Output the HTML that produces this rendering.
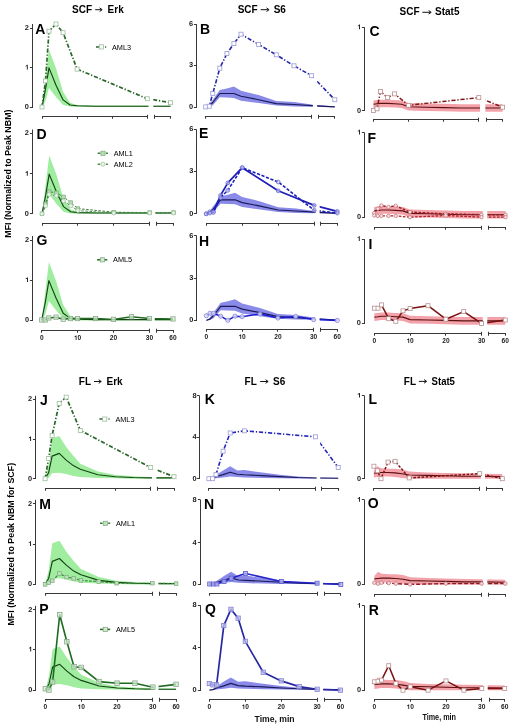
<!DOCTYPE html>
<html><head><meta charset="utf-8"><style>
html,body{margin:0;padding:0;background:#fff;width:520px;height:727px;overflow:hidden}
svg text{font-family:"Liberation Sans", sans-serif}
svg{will-change:transform;filter:blur(0.4px)}
</style></head><body>
<svg width="520" height="727" viewBox="0 0 520 727" style="position:absolute;left:0;top:0">
<defs>
<clipPath id="cA"><rect x="33.3" y="-2" width="115.2" height="123.5"/><rect x="153.3" y="-2" width="25.2" height="123.5"/></clipPath>
<clipPath id="cB"><rect x="197.6" y="-5.8" width="115.2" height="127.1"/><rect x="317.2" y="-5.8" width="25.6" height="127.1"/></clipPath>
<clipPath id="cC"><rect x="365.5" y="-2.7" width="114.5" height="127.2"/><rect x="485.4" y="-2.7" width="25.2" height="127.2"/></clipPath>
<clipPath id="cD"><rect x="33.3" y="103.5" width="117.6" height="125"/><rect x="155.4" y="103.5" width="26.1" height="125"/></clipPath>
<clipPath id="cE"><rect x="197.7" y="99.5" width="117.7" height="129.1"/><rect x="319.7" y="99.5" width="25.6" height="129.1"/></clipPath>
<clipPath id="cF"><rect x="365.5" y="102.6" width="117.2" height="129.4"/><rect x="487.3" y="102.6" width="26.3" height="129.4"/></clipPath>
<clipPath id="cG"><rect x="33.5" y="210" width="117.1" height="125"/><rect x="154.8" y="210" width="26.2" height="125"/></clipPath>
<clipPath id="cH"><rect x="197.7" y="205.6" width="117.1" height="129"/><rect x="319.7" y="205.6" width="25.6" height="129"/></clipPath>
<clipPath id="cI"><rect x="365.3" y="209.1" width="117.5" height="129.1"/><rect x="487.3" y="209.1" width="26" height="129.1"/></clipPath>
<clipPath id="cJ"><rect x="36.6" y="369.5" width="115.3" height="123.7"/><rect x="156.4" y="369.5" width="25.6" height="123.7"/></clipPath>
<clipPath id="cK"><rect x="200.9" y="365.7" width="115.7" height="127.3"/><rect x="320.2" y="365.7" width="26" height="127.3"/></clipPath>
<clipPath id="cL"><rect x="365.5" y="365.7" width="115.4" height="127.4"/><rect x="485" y="365.7" width="25.3" height="127.4"/></clipPath>
<clipPath id="cM"><rect x="36.5" y="473.6" width="117.1" height="125.1"/><rect x="158.5" y="473.6" width="25.6" height="125.1"/></clipPath>
<clipPath id="cN"><rect x="201.1" y="469.9" width="117.2" height="128.9"/><rect x="323.2" y="469.9" width="25.6" height="128.9"/></clipPath>
<clipPath id="cO"><rect x="365.5" y="469.8" width="117.3" height="129.4"/><rect x="487.3" y="469.8" width="26" height="129.4"/></clipPath>
<clipPath id="cP"><rect x="36.7" y="579.6" width="117.3" height="125"/><rect x="158.5" y="579.6" width="25.6" height="125"/></clipPath>
<clipPath id="cQ"><rect x="201" y="575.2" width="117.3" height="129.1"/><rect x="323.2" y="575.2" width="25.2" height="129.1"/></clipPath>
<clipPath id="cR"><rect x="365.5" y="575.7" width="117.5" height="128.7"/><rect x="487.8" y="575.7" width="24.9" height="128.7"/></clipPath>
</defs>
<path d="M32.5 24V108" stroke="#383838" stroke-width="1.05" fill="none"/>
<path d="M29.9 107.5H32.5" stroke="#383838" stroke-width="1.05" fill="none"/>
<text transform="translate(24.8 109) scale(1.12 1)" font-size="6.6" font-weight="bold" fill="#1a1a1a">0</text>
<path d="M29.9 67.5H32.5" stroke="#383838" stroke-width="1.05" fill="none"/>
<path transform="translate(24.8 69.5) scale(0.00361 -0.00322)" d="M820 0L560 0L560 1050Q420 930 200 860L200 1110Q330 1160 450 1260Q560 1360 610 1466L820 1466Z" fill="#1a1a1a"/>
<path d="M29.9 28.5H32.5" stroke="#383838" stroke-width="1.05" fill="none"/>
<text transform="translate(24.8 29.9) scale(1.12 1)" font-size="6.6" font-weight="bold" fill="#1a1a1a">2</text>
<path d="M42.5 118.7V116.5H147.5M77.5 116.5v2.2M112.5 116.5v2.2M147.5 114.8V118.7M154.5 114.8V118.7M154.5 116.5H170.5V118.7" stroke="#383838" stroke-width="1.05" fill="none"/>
<text x="35.3" y="34" font-size="14" font-weight="bold" fill="#000">A</text>
<g>
<path clip-path="url(#cA)" d="M42 107L45.5 78.6L49 49.7L56 68.3L63.1 92L70.1 102.7L77.1 105L94.7 105.4L112.2 105.6L129.8 105.6L147.3 105.6L170.5 105.6L170.5 107L147.3 107L129.8 107L112.2 107L94.7 107L77.1 107L70.1 106.6L63.1 105L56 97.1L49 88L45.5 101.1L42 107Z" fill="#a0eda0" stroke="none"/>
<path clip-path="url(#cA)" d="M42 107L45.5 89.2L49 67.9L56 85.3L63.1 99.9L70.1 105L77.1 105.8L94.7 106.2L112.2 106.2L129.8 106.2L147.3 106.2L170.5 106.2" fill="none" stroke="#144414" stroke-width="1.15" stroke-linejoin="round"/>
<path clip-path="url(#cA)" d="M42 107L45.5 80.9L49 31.2L56 24L63.1 32.7L77.1 69.1L147.3 98.7L170.5 102.7" fill="none" stroke="#2a662a" stroke-width="1.7" stroke-dasharray="4.2 1.8 1.3 1.8" stroke-linejoin="round"/>
<rect x="40" y="105" width="4" height="4" fill="#fff" stroke="#9cbc9c" stroke-width="0.8"/>
<rect x="43.5" y="78.9" width="4" height="4" fill="#fff" stroke="#9cbc9c" stroke-width="0.8"/>
<rect x="47" y="29.2" width="4" height="4" fill="#fff" stroke="#9cbc9c" stroke-width="0.8"/>
<rect x="54" y="22" width="4" height="4" fill="#fff" stroke="#9cbc9c" stroke-width="0.8"/>
<rect x="61.1" y="30.7" width="4" height="4" fill="#fff" stroke="#9cbc9c" stroke-width="0.8"/>
<rect x="75.1" y="67.1" width="4" height="4" fill="#fff" stroke="#9cbc9c" stroke-width="0.8"/>
<rect x="145.3" y="96.7" width="4" height="4" fill="#fff" stroke="#9cbc9c" stroke-width="0.8"/>
<rect x="168.5" y="100.7" width="4" height="4" fill="#fff" stroke="#9cbc9c" stroke-width="0.8"/>
</g>
<path d="M96 46.9h10.2" stroke="#2a662a" stroke-width="1.5" stroke-dasharray="4.2 1.8 1.3 1.8"/>
<rect x="99.2" y="44.8" width="4.2" height="4.2" fill="#fff" stroke="#9cbc9c" stroke-width="0.8"/>
<text x="112" y="49.5" font-size="7.3" fill="#000">AML3</text>
<path d="M196.5 24.2V108" stroke="#383838" stroke-width="1.05" fill="none"/>
<path d="M193.9 107.5H196.5" stroke="#383838" stroke-width="1.05" fill="none"/>
<text transform="translate(189.1 109.2) scale(1.12 1)" font-size="6.6" font-weight="bold" fill="#1a1a1a">0</text>
<path d="M193.9 65.5H196.5" stroke="#383838" stroke-width="1.05" fill="none"/>
<text transform="translate(189.1 67.2) scale(1.12 1)" font-size="6.6" font-weight="bold" fill="#1a1a1a">3</text>
<path d="M193.9 24.5H196.5" stroke="#383838" stroke-width="1.05" fill="none"/>
<text transform="translate(189.1 26.1) scale(1.12 1)" font-size="6.6" font-weight="bold" fill="#1a1a1a">6</text>
<path d="M205.5 118.7V116.5H311.5M241.5 116.5v2.2M276.5 116.5v2.2M311.5 114.8V118.7M318.5 114.8V118.7M318.5 116.5H334.5V118.7" stroke="#383838" stroke-width="1.05" fill="none"/>
<text x="200" y="34" font-size="14" font-weight="bold" fill="#000">B</text>
<g>
<path clip-path="url(#cB)" d="M205.7 107.3L209.2 104.5L212.8 99.7L219.8 90L226.9 88.6L233.9 86.5L241 90.7L258.6 95.1L276.3 100.9L294 102L311.6 104.5L334.8 106.6L334.8 107.2L311.6 106.7L294 106.5L276.3 105.6L258.6 103.1L241 100.7L233.9 97.9L226.9 97.6L219.8 97.3L212.8 105.2L209.2 107L205.7 107.3Z" fill="#8a8ae8" stroke="none"/>
<path clip-path="url(#cB)" d="M205.7 107.3L209.2 105.9L212.8 102.5L219.8 93.5L226.9 93.5L233.9 93.5L241 96.2L258.6 99.7L276.3 103.6L294 104.5L311.6 105.6L334.8 106.9" fill="none" stroke="#1a1a58" stroke-width="1.15" stroke-linejoin="round"/>
<path clip-path="url(#cB)" d="M205.7 106.9L209.2 106.2L212.8 93.5L219.8 68.2L226.9 53.6L233.9 43.6L241 34.2L258.6 44.4L276.3 54.8L294 65.8L311.6 75.7L334.8 99.7" fill="none" stroke="#2424a8" stroke-width="1.6" stroke-dasharray="4.2 1.8 1.3 1.8" stroke-linejoin="round"/>
<rect x="203.7" y="104.9" width="4" height="4" fill="#fff" stroke="#9a9ad8" stroke-width="0.8"/>
<rect x="207.2" y="104.2" width="4" height="4" fill="#fff" stroke="#9a9ad8" stroke-width="0.8"/>
<rect x="210.8" y="91.5" width="4" height="4" fill="#fff" stroke="#9a9ad8" stroke-width="0.8"/>
<rect x="217.8" y="66.2" width="4" height="4" fill="#fff" stroke="#9a9ad8" stroke-width="0.8"/>
<rect x="224.9" y="51.6" width="4" height="4" fill="#fff" stroke="#9a9ad8" stroke-width="0.8"/>
<rect x="231.9" y="41.6" width="4" height="4" fill="#fff" stroke="#9a9ad8" stroke-width="0.8"/>
<rect x="239" y="32.2" width="4" height="4" fill="#fff" stroke="#9a9ad8" stroke-width="0.8"/>
<rect x="256.6" y="42.4" width="4" height="4" fill="#fff" stroke="#9a9ad8" stroke-width="0.8"/>
<rect x="274.3" y="52.8" width="4" height="4" fill="#fff" stroke="#9a9ad8" stroke-width="0.8"/>
<rect x="292" y="63.8" width="4" height="4" fill="#fff" stroke="#9a9ad8" stroke-width="0.8"/>
<rect x="309.6" y="73.7" width="4" height="4" fill="#fff" stroke="#9a9ad8" stroke-width="0.8"/>
<rect x="332.8" y="97.7" width="4" height="4" fill="#fff" stroke="#9a9ad8" stroke-width="0.8"/>
</g>
<path d="M364.5 27.3V111" stroke="#383838" stroke-width="1.05" fill="none"/>
<path d="M361.9 110.5H364.5" stroke="#383838" stroke-width="1.05" fill="none"/>
<text transform="translate(357 112.5) scale(1.12 1)" font-size="6.6" font-weight="bold" fill="#1a1a1a">0</text>
<path d="M361.9 27.5H364.5" stroke="#383838" stroke-width="1.05" fill="none"/>
<path transform="translate(357 29.2) scale(0.00361 -0.00322)" d="M820 0L560 0L560 1050Q420 930 200 860L200 1110Q330 1160 450 1260Q560 1360 610 1466L820 1466Z" fill="#1a1a1a"/>
<path d="M373.5 121.7V119.5H478.5M408.5 119.5v2.2M443.5 119.5v2.2M478.5 117.8V121.7M486.5 117.8V121.7M486.5 119.5H502.5V121.7" stroke="#383838" stroke-width="1.05" fill="none"/>
<text x="369.5" y="35.8" font-size="14" font-weight="bold" fill="#000">C</text>
<g>
<path clip-path="url(#cC)" d="M373.5 100.5L377 100.1L380.5 99.7L387.5 99.7L394.6 100.1L401.6 100.5L408.6 103L426.1 103.4L443.7 103.8L461.2 104.3L478.8 104.3L502.6 104.3L502.6 111.7L478.8 111.7L461.2 111.7L443.7 111.3L426.1 110.9L408.6 110.5L401.6 108L394.6 107.6L387.5 107.2L380.5 107.2L377 107.6L373.5 108Z" fill="#f3a2aa" stroke="none"/>
<path clip-path="url(#cC)" d="M373.5 104.3L377 103.8L380.5 103.4L387.5 103.4L394.6 103.8L401.6 104.3L408.6 106.8L426.1 107.2L443.7 107.6L461.2 108L478.8 108L502.6 108" fill="none" stroke="#5c1010" stroke-width="1.15" stroke-linejoin="round"/>
<path clip-path="url(#cC)" d="M373.5 110.5L377 108.8L380.5 91.4L387.5 97.6L394.6 93.9L408.6 105.3L478.8 97.6L502.6 107.2" fill="none" stroke="#7e1616" stroke-width="1.5" stroke-dasharray="4.2 1.8 1.3 1.8" stroke-linejoin="round"/>
<rect x="371.5" y="108.5" width="4" height="4" fill="#fff" stroke="#b89090" stroke-width="0.8"/>
<rect x="375" y="106.8" width="4" height="4" fill="#fff" stroke="#b89090" stroke-width="0.8"/>
<rect x="378.5" y="89.4" width="4" height="4" fill="#fff" stroke="#b89090" stroke-width="0.8"/>
<rect x="385.5" y="95.6" width="4" height="4" fill="#fff" stroke="#b89090" stroke-width="0.8"/>
<rect x="392.6" y="91.9" width="4" height="4" fill="#fff" stroke="#b89090" stroke-width="0.8"/>
<rect x="406.6" y="103.3" width="4" height="4" fill="#fff" stroke="#b89090" stroke-width="0.8"/>
<rect x="476.8" y="95.6" width="4" height="4" fill="#fff" stroke="#b89090" stroke-width="0.8"/>
<rect x="500.6" y="105.2" width="4" height="4" fill="#fff" stroke="#b89090" stroke-width="0.8"/>
</g>
<path d="M32.5 129.5V214" stroke="#383838" stroke-width="1.05" fill="none"/>
<path d="M29.9 213.5H32.5" stroke="#383838" stroke-width="1.05" fill="none"/>
<text transform="translate(24.8 215.8) scale(1.12 1)" font-size="6.6" font-weight="bold" fill="#1a1a1a">0</text>
<path d="M29.9 173.5H32.5" stroke="#383838" stroke-width="1.05" fill="none"/>
<path transform="translate(24.8 175.8) scale(0.00361 -0.00322)" d="M820 0L560 0L560 1050Q420 930 200 860L200 1110Q330 1160 450 1260Q560 1360 610 1466L820 1466Z" fill="#1a1a1a"/>
<path d="M29.9 133.5H32.5" stroke="#383838" stroke-width="1.05" fill="none"/>
<text transform="translate(24.8 135.4) scale(1.12 1)" font-size="6.6" font-weight="bold" fill="#1a1a1a">2</text>
<path d="M42.5 225.7V223.5H149.5M77.5 223.5v2.2M113.5 223.5v2.2M149.5 221.8V225.7M156.5 221.8V225.7M156.5 223.5H173.5V225.7" stroke="#383838" stroke-width="1.05" fill="none"/>
<text x="36.5" y="138.9" font-size="14" font-weight="bold" fill="#000">D</text>
<g>
<path clip-path="url(#cD)" d="M42 213.8L45.6 184.9L49.2 155.6L56.4 174.5L63.5 198.5L70.7 209.4L77.9 211.8L95.8 212.2L113.8 212.4L131.8 212.4L149.7 212.4L173.5 212.4L173.5 213.8L149.7 213.8L131.8 213.8L113.8 213.8L95.8 213.8L77.9 213.8L70.7 213.4L63.5 211.8L56.4 203.8L49.2 194.5L45.6 207.8L42 213.8Z" fill="#a0eda0" stroke="none"/>
<path clip-path="url(#cD)" d="M42 213.8L45.6 195.7L49.2 174.1L56.4 191.7L63.5 206.6L70.7 211.8L77.9 212.6L95.8 213L113.8 213L131.8 213L149.7 213L173.5 213" fill="none" stroke="#144414" stroke-width="1.15" stroke-linejoin="round"/>
<path clip-path="url(#cD)" d="M42 213.8L45.6 203.8L49.2 191.7L56.4 192.9L63.5 196.9L70.7 202.6L77.9 208.6L113.8 212.2L149.7 212.6L173.5 212.6" fill="none" stroke="#3c7c3c" stroke-width="1.0" stroke-dasharray="2.6 1.5" stroke-linejoin="round"/>
<rect x="40.2" y="212" width="3.6" height="3.6" fill="#b8dcb8" stroke="#7aaa7a" stroke-width="0.7"/>
<rect x="43.8" y="202" width="3.6" height="3.6" fill="#b8dcb8" stroke="#7aaa7a" stroke-width="0.7"/>
<rect x="47.4" y="189.9" width="3.6" height="3.6" fill="#b8dcb8" stroke="#7aaa7a" stroke-width="0.7"/>
<rect x="54.6" y="191.1" width="3.6" height="3.6" fill="#b8dcb8" stroke="#7aaa7a" stroke-width="0.7"/>
<rect x="61.7" y="195.1" width="3.6" height="3.6" fill="#b8dcb8" stroke="#7aaa7a" stroke-width="0.7"/>
<rect x="68.9" y="200.8" width="3.6" height="3.6" fill="#b8dcb8" stroke="#7aaa7a" stroke-width="0.7"/>
<rect x="76.1" y="206.8" width="3.6" height="3.6" fill="#b8dcb8" stroke="#7aaa7a" stroke-width="0.7"/>
<rect x="112" y="210.4" width="3.6" height="3.6" fill="#b8dcb8" stroke="#7aaa7a" stroke-width="0.7"/>
<rect x="147.9" y="210.8" width="3.6" height="3.6" fill="#b8dcb8" stroke="#7aaa7a" stroke-width="0.7"/>
<rect x="171.7" y="210.8" width="3.6" height="3.6" fill="#b8dcb8" stroke="#7aaa7a" stroke-width="0.7"/>
<path clip-path="url(#cD)" d="M42 213.8L45.6 205.8L49.2 194.5L56.4 195.7L63.5 201L70.7 205.8L77.9 210.6L113.8 213L149.7 213L173.5 213" fill="none" stroke="#4a8a4a" stroke-width="0.9" stroke-dasharray="2.6 1.5" stroke-linejoin="round"/>
<circle cx="42" cy="213.8" r="2" fill="#e6f4e6" stroke="#9cc09c" stroke-width="0.7"/>
<circle cx="45.6" cy="205.8" r="2" fill="#e6f4e6" stroke="#9cc09c" stroke-width="0.7"/>
<circle cx="49.2" cy="194.5" r="2" fill="#e6f4e6" stroke="#9cc09c" stroke-width="0.7"/>
<circle cx="56.4" cy="195.7" r="2" fill="#e6f4e6" stroke="#9cc09c" stroke-width="0.7"/>
<circle cx="63.5" cy="201" r="2" fill="#e6f4e6" stroke="#9cc09c" stroke-width="0.7"/>
<circle cx="70.7" cy="205.8" r="2" fill="#e6f4e6" stroke="#9cc09c" stroke-width="0.7"/>
<circle cx="77.9" cy="210.6" r="2" fill="#e6f4e6" stroke="#9cc09c" stroke-width="0.7"/>
<circle cx="113.8" cy="213" r="2" fill="#e6f4e6" stroke="#9cc09c" stroke-width="0.7"/>
<circle cx="149.7" cy="213" r="2" fill="#e6f4e6" stroke="#9cc09c" stroke-width="0.7"/>
<circle cx="173.5" cy="213" r="2" fill="#e6f4e6" stroke="#9cc09c" stroke-width="0.7"/>
</g>
<path d="M97.7 153.3h10.2" stroke="#3c7c3c" stroke-width="1.5" stroke-dasharray="2.6 1.5"/>
<rect x="100.9" y="151.2" width="4.2" height="4.2" fill="#b8dcb8" stroke="#7aaa7a" stroke-width="0.7"/>
<text x="113.7" y="155.9" font-size="7.3" fill="#000">AML1</text>
<path d="M97.7 164.2h10.2" stroke="#4a8a4a" stroke-width="1.5" stroke-dasharray="2.6 1.5"/>
<circle cx="103" cy="164.2" r="2.1" fill="#e6f4e6" stroke="#9cc09c" stroke-width="0.7"/>
<text x="113.7" y="166.8" font-size="7.3" fill="#000">AML2</text>
<path d="M196.5 129.5V214" stroke="#383838" stroke-width="1.05" fill="none"/>
<path d="M193.9 213.5H196.5" stroke="#383838" stroke-width="1.05" fill="none"/>
<text transform="translate(189.2 215.8) scale(1.12 1)" font-size="6.6" font-weight="bold" fill="#1a1a1a">0</text>
<path d="M193.9 171.5H196.5" stroke="#383838" stroke-width="1.05" fill="none"/>
<text transform="translate(189.2 173.4) scale(1.12 1)" font-size="6.6" font-weight="bold" fill="#1a1a1a">3</text>
<path d="M193.9 129.5H196.5" stroke="#383838" stroke-width="1.05" fill="none"/>
<text transform="translate(189.2 131.4) scale(1.12 1)" font-size="6.6" font-weight="bold" fill="#1a1a1a">6</text>
<path d="M206.5 225.7V223.5H314.5M242.5 223.5v2.2M278.5 223.5v2.2M314.5 221.8V225.7M320.5 221.8V225.7M320.5 223.5H337.5V225.7" stroke="#383838" stroke-width="1.05" fill="none"/>
<text x="199.1" y="137.9" font-size="14" font-weight="bold" fill="#000">E</text>
<g>
<path clip-path="url(#cE)" d="M206.2 213.8L209.8 211L213.4 206.1L220.6 196.2L227.8 194.8L235 192.7L242.2 196.9L260.2 201.4L278.2 207.3L296.2 208.5L314.2 211L337.3 213.1L337.3 213.7L314.2 213.2L296.2 213L278.2 212.1L260.2 209.6L242.2 207.1L235 204.2L227.8 204L220.6 203.7L213.4 211.7L209.8 213.5L206.2 213.8Z" fill="#8a8ae8" stroke="none"/>
<path clip-path="url(#cE)" d="M206.2 213.8L209.8 212.4L213.4 208.9L220.6 199.8L227.8 199.8L235 199.8L242.2 202.6L260.2 206.1L278.2 210L296.2 211L314.2 212.1L337.3 213.4" fill="none" stroke="#1a1a58" stroke-width="1.15" stroke-linejoin="round"/>
<path clip-path="url(#cE)" d="M206.2 213.8L209.8 211.8L213.4 211.8L220.6 195.3L227.8 182.9L242.2 167.7L278.2 190.8L314.2 205.4L337.3 211.4" fill="none" stroke="#1e1eb8" stroke-width="1.7" stroke-linejoin="round"/>
<circle cx="206.2" cy="213.8" r="1.9" fill="#d0d0f6" fill-opacity="0.6" stroke="#6a6ad0" stroke-width="0.8"/>
<circle cx="209.8" cy="211.8" r="1.9" fill="#d0d0f6" fill-opacity="0.6" stroke="#6a6ad0" stroke-width="0.8"/>
<circle cx="213.4" cy="211.8" r="1.9" fill="#d0d0f6" fill-opacity="0.6" stroke="#6a6ad0" stroke-width="0.8"/>
<circle cx="220.6" cy="195.3" r="1.9" fill="#d0d0f6" fill-opacity="0.6" stroke="#6a6ad0" stroke-width="0.8"/>
<circle cx="227.8" cy="182.9" r="1.9" fill="#d0d0f6" fill-opacity="0.6" stroke="#6a6ad0" stroke-width="0.8"/>
<circle cx="242.2" cy="167.7" r="1.9" fill="#d0d0f6" fill-opacity="0.6" stroke="#6a6ad0" stroke-width="0.8"/>
<circle cx="278.2" cy="190.8" r="1.9" fill="#d0d0f6" fill-opacity="0.6" stroke="#6a6ad0" stroke-width="0.8"/>
<circle cx="314.2" cy="205.4" r="1.9" fill="#d0d0f6" fill-opacity="0.6" stroke="#6a6ad0" stroke-width="0.8"/>
<circle cx="337.3" cy="211.4" r="1.9" fill="#d0d0f6" fill-opacity="0.6" stroke="#6a6ad0" stroke-width="0.8"/>
<path clip-path="url(#cE)" d="M206.2 213.8L209.8 213.1L213.4 212.4L220.6 197.6L227.8 190.3L242.2 167.7L278.2 182L314.2 210.3L337.3 213.1" fill="none" stroke="#1e1eb8" stroke-width="1.6" stroke-dasharray="3.2 1.6" stroke-linejoin="round"/>
<circle cx="206.2" cy="213.8" r="1.9" fill="#d0d0f6" fill-opacity="0.6" stroke="#6a6ad0" stroke-width="0.8"/>
<circle cx="209.8" cy="213.1" r="1.9" fill="#d0d0f6" fill-opacity="0.6" stroke="#6a6ad0" stroke-width="0.8"/>
<circle cx="213.4" cy="212.4" r="1.9" fill="#d0d0f6" fill-opacity="0.6" stroke="#6a6ad0" stroke-width="0.8"/>
<circle cx="220.6" cy="197.6" r="1.9" fill="#d0d0f6" fill-opacity="0.6" stroke="#6a6ad0" stroke-width="0.8"/>
<circle cx="227.8" cy="190.3" r="1.9" fill="#d0d0f6" fill-opacity="0.6" stroke="#6a6ad0" stroke-width="0.8"/>
<circle cx="242.2" cy="167.7" r="1.9" fill="#d0d0f6" fill-opacity="0.6" stroke="#6a6ad0" stroke-width="0.8"/>
<circle cx="278.2" cy="182" r="1.9" fill="#d0d0f6" fill-opacity="0.6" stroke="#6a6ad0" stroke-width="0.8"/>
<circle cx="314.2" cy="210.3" r="1.9" fill="#d0d0f6" fill-opacity="0.6" stroke="#6a6ad0" stroke-width="0.8"/>
<circle cx="337.3" cy="213.1" r="1.9" fill="#d0d0f6" fill-opacity="0.6" stroke="#6a6ad0" stroke-width="0.8"/>
</g>
<path d="M364.5 132.6V218" stroke="#383838" stroke-width="1.05" fill="none"/>
<path d="M361.9 217.5H364.5" stroke="#383838" stroke-width="1.05" fill="none"/>
<text transform="translate(357 219.1) scale(1.12 1)" font-size="6.6" font-weight="bold" fill="#1a1a1a">0</text>
<path d="M361.9 132.5H364.5" stroke="#383838" stroke-width="1.05" fill="none"/>
<path transform="translate(357 134.5) scale(0.00361 -0.00322)" d="M820 0L560 0L560 1050Q420 930 200 860L200 1110Q330 1160 450 1260Q560 1360 610 1466L820 1466Z" fill="#1a1a1a"/>
<path d="M374.5 229.7V227.5H481.5M409.5 227.5v2.2M445.5 227.5v2.2M481.5 225.8V229.7M488.5 225.8V229.7M488.5 227.5H505.5V229.7" stroke="#383838" stroke-width="1.05" fill="none"/>
<text x="367.6" y="142.6" font-size="14" font-weight="bold" fill="#000">F</text>
<g>
<path clip-path="url(#cF)" d="M374.2 207L377.8 206.6L381.4 206.2L388.5 206.2L395.7 206.6L402.8 207L410 209.6L427.9 210L445.7 210.4L463.6 210.9L481.5 210.9L505.6 210.9L505.6 218.5L481.5 218.5L463.6 218.5L445.7 218L427.9 217.6L410 217.2L402.8 214.7L395.7 214.2L388.5 213.8L381.4 213.8L377.8 214.2L374.2 214.7Z" fill="#f3a2aa" stroke="none"/>
<path clip-path="url(#cF)" d="M374.2 210.9L377.8 210.4L381.4 210L388.5 210L395.7 210.4L402.8 210.9L410 213.4L427.9 213.8L445.7 214.2L463.6 214.7L481.5 214.7L505.6 214.7" fill="none" stroke="#5c1010" stroke-width="1.15" stroke-linejoin="round"/>
<path clip-path="url(#cF)" d="M374.2 213L377.8 208.7L381.4 205.4L388.5 207L395.7 205.8L410 212.1L445.7 213.8L481.5 214.7L505.6 214.7" fill="none" stroke="#9a1820" stroke-width="1.4" stroke-dasharray="2.6 1.5" stroke-linejoin="round"/>
<circle cx="374.2" cy="213" r="1.7" fill="#fbe4e6" stroke="#c07a80" stroke-width="0.8"/>
<circle cx="377.8" cy="208.7" r="1.7" fill="#fbe4e6" stroke="#c07a80" stroke-width="0.8"/>
<circle cx="381.4" cy="205.4" r="1.7" fill="#fbe4e6" stroke="#c07a80" stroke-width="0.8"/>
<circle cx="388.5" cy="207" r="1.7" fill="#fbe4e6" stroke="#c07a80" stroke-width="0.8"/>
<circle cx="395.7" cy="205.8" r="1.7" fill="#fbe4e6" stroke="#c07a80" stroke-width="0.8"/>
<circle cx="410" cy="212.1" r="1.7" fill="#fbe4e6" stroke="#c07a80" stroke-width="0.8"/>
<circle cx="445.7" cy="213.8" r="1.7" fill="#fbe4e6" stroke="#c07a80" stroke-width="0.8"/>
<circle cx="481.5" cy="214.7" r="1.7" fill="#fbe4e6" stroke="#c07a80" stroke-width="0.8"/>
<circle cx="505.6" cy="214.7" r="1.7" fill="#fbe4e6" stroke="#c07a80" stroke-width="0.8"/>
<path clip-path="url(#cF)" d="M374.2 215.5L377.8 215.9L381.4 215.9L388.5 215.9L395.7 215.9L410 217.2L445.7 215.5L481.5 217.2L505.6 217.2" fill="none" stroke="#b02028" stroke-width="1.3" stroke-dasharray="2.6 1.5" stroke-linejoin="round"/>
<circle cx="374.2" cy="215.5" r="1.7" fill="#fbe4e6" stroke="#c07a80" stroke-width="0.8"/>
<circle cx="377.8" cy="215.9" r="1.7" fill="#fbe4e6" stroke="#c07a80" stroke-width="0.8"/>
<circle cx="381.4" cy="215.9" r="1.7" fill="#fbe4e6" stroke="#c07a80" stroke-width="0.8"/>
<circle cx="388.5" cy="215.9" r="1.7" fill="#fbe4e6" stroke="#c07a80" stroke-width="0.8"/>
<circle cx="395.7" cy="215.9" r="1.7" fill="#fbe4e6" stroke="#c07a80" stroke-width="0.8"/>
<circle cx="410" cy="217.2" r="1.7" fill="#fbe4e6" stroke="#c07a80" stroke-width="0.8"/>
<circle cx="445.7" cy="215.5" r="1.7" fill="#fbe4e6" stroke="#c07a80" stroke-width="0.8"/>
<circle cx="481.5" cy="217.2" r="1.7" fill="#fbe4e6" stroke="#c07a80" stroke-width="0.8"/>
<circle cx="505.6" cy="217.2" r="1.7" fill="#fbe4e6" stroke="#c07a80" stroke-width="0.8"/>
</g>
<path d="M32.5 236V321" stroke="#383838" stroke-width="1.05" fill="none"/>
<path d="M29.9 320.5H32.5" stroke="#383838" stroke-width="1.05" fill="none"/>
<text transform="translate(25 322.3) scale(1.12 1)" font-size="6.6" font-weight="bold" fill="#1a1a1a">0</text>
<path d="M29.9 280.5H32.5" stroke="#383838" stroke-width="1.05" fill="none"/>
<path transform="translate(25 282.1) scale(0.00361 -0.00322)" d="M820 0L560 0L560 1050Q420 930 200 860L200 1110Q330 1160 450 1260Q560 1360 610 1466L820 1466Z" fill="#1a1a1a"/>
<path d="M29.9 240.5H32.5" stroke="#383838" stroke-width="1.05" fill="none"/>
<text transform="translate(25 241.9) scale(1.12 1)" font-size="6.6" font-weight="bold" fill="#1a1a1a">2</text>
<path d="M41.5 332.7V330.5H149.5M77.5 330.5v2.2M113.5 330.5v2.2M149.5 328.8V332.7M156.5 328.8V332.7M156.5 330.5H173.5V332.7" stroke="#383838" stroke-width="1.05" fill="none"/>
<text x="39.9" y="340.1" font-size="6.6" font-weight="bold" fill="#1a1a1a">0</text>
<path transform="translate(73.9 340.1) scale(0.00322 -0.00322)" d="M820 0L560 0L560 1050Q420 930 200 860L200 1110Q330 1160 450 1260Q560 1360 610 1466L820 1466Z" fill="#1a1a1a"/>
<text x="77.6" y="340.1" font-size="6.6" font-weight="bold" fill="#1a1a1a">0</text>
<text x="109.8" y="340.1" font-size="6.6" font-weight="bold" fill="#1a1a1a">2</text>
<text x="113.5" y="340.1" font-size="6.6" font-weight="bold" fill="#1a1a1a">0</text>
<text x="145.7" y="340.1" font-size="6.6" font-weight="bold" fill="#1a1a1a">3</text>
<text x="149.4" y="340.1" font-size="6.6" font-weight="bold" fill="#1a1a1a">0</text>
<text x="169.3" y="340.1" font-size="6.6" font-weight="bold" fill="#1a1a1a">6</text>
<text x="173" y="340.1" font-size="6.6" font-weight="bold" fill="#1a1a1a">0</text>
<text x="36.5" y="245.3" font-size="14" font-weight="bold" fill="#000">G</text>
<g>
<path clip-path="url(#cG)" d="M41.7 320.4L45.3 291.5L48.9 262.1L56.1 281L63.2 305.1L70.4 316L77.6 318.4L95.6 318.8L113.5 319L131.4 319L149.4 319L173 319L173 320.4L149.4 320.4L131.4 320.4L113.5 320.4L95.6 320.4L77.6 320.4L70.4 320L63.2 318.4L56.1 310.3L48.9 301.1L45.3 314.4L41.7 320.4Z" fill="#a0eda0" stroke="none"/>
<path clip-path="url(#cG)" d="M41.7 320.4L45.3 302.3L48.9 280.6L56.1 298.3L63.2 313.2L70.4 318.4L77.6 319.2L95.6 319.6L113.5 319.6L131.4 319.6L149.4 319.6L173 319.6" fill="none" stroke="#144414" stroke-width="1.15" stroke-linejoin="round"/>
<path clip-path="url(#cG)" d="M41.7 320L45.3 320L48.9 318L56.1 317.2L63.2 319.2L70.4 318.6L77.6 318.6L95.6 318.6L113.5 319.4L131.4 316.8L149.4 318.6L173 319" fill="none" stroke="#1f6a1f" stroke-width="1.5" stroke-linejoin="round"/>
<rect x="39.6" y="317.8" width="4.3" height="4.3" fill="#d0ecd0" fill-opacity="0.75" stroke="#8aa88a" stroke-width="0.8"/>
<rect x="43.1" y="317.8" width="4.3" height="4.3" fill="#d0ecd0" fill-opacity="0.75" stroke="#8aa88a" stroke-width="0.8"/>
<rect x="46.7" y="315.8" width="4.3" height="4.3" fill="#d0ecd0" fill-opacity="0.75" stroke="#8aa88a" stroke-width="0.8"/>
<rect x="53.9" y="315" width="4.3" height="4.3" fill="#d0ecd0" fill-opacity="0.75" stroke="#8aa88a" stroke-width="0.8"/>
<rect x="61.1" y="317" width="4.3" height="4.3" fill="#d0ecd0" fill-opacity="0.75" stroke="#8aa88a" stroke-width="0.8"/>
<rect x="68.3" y="316.4" width="4.3" height="4.3" fill="#d0ecd0" fill-opacity="0.75" stroke="#8aa88a" stroke-width="0.8"/>
<rect x="75.4" y="316.4" width="4.3" height="4.3" fill="#d0ecd0" fill-opacity="0.75" stroke="#8aa88a" stroke-width="0.8"/>
<rect x="93.4" y="316.4" width="4.3" height="4.3" fill="#d0ecd0" fill-opacity="0.75" stroke="#8aa88a" stroke-width="0.8"/>
<rect x="111.3" y="317.2" width="4.3" height="4.3" fill="#d0ecd0" fill-opacity="0.75" stroke="#8aa88a" stroke-width="0.8"/>
<rect x="129.3" y="314.6" width="4.3" height="4.3" fill="#d0ecd0" fill-opacity="0.75" stroke="#8aa88a" stroke-width="0.8"/>
<rect x="147.2" y="316.4" width="4.3" height="4.3" fill="#d0ecd0" fill-opacity="0.75" stroke="#8aa88a" stroke-width="0.8"/>
<rect x="170.8" y="316.8" width="4.3" height="4.3" fill="#d0ecd0" fill-opacity="0.75" stroke="#8aa88a" stroke-width="0.8"/>
</g>
<path d="M97.1 259.8h10.2" stroke="#1f6a1f" stroke-width="1.5"/>
<rect x="100.3" y="257.7" width="4.2" height="4.2" fill="#d0ecd0" stroke="#8aa88a" stroke-width="0.8"/>
<text x="113.1" y="262.4" font-size="7.3" fill="#000">AML5</text>
<path d="M196.5 235.6V321" stroke="#383838" stroke-width="1.05" fill="none"/>
<path d="M193.9 320.5H196.5" stroke="#383838" stroke-width="1.05" fill="none"/>
<text transform="translate(189.2 322.3) scale(1.12 1)" font-size="6.6" font-weight="bold" fill="#1a1a1a">0</text>
<path d="M193.9 278.5H196.5" stroke="#383838" stroke-width="1.05" fill="none"/>
<text transform="translate(189.2 279.9) scale(1.12 1)" font-size="6.6" font-weight="bold" fill="#1a1a1a">3</text>
<path d="M193.9 235.5H196.5" stroke="#383838" stroke-width="1.05" fill="none"/>
<text transform="translate(189.2 237.5) scale(1.12 1)" font-size="6.6" font-weight="bold" fill="#1a1a1a">6</text>
<path d="M206.5 331.7V329.5H313.5M242.5 329.5v2.2M277.5 329.5v2.2M313.5 327.8V331.7M320.5 327.8V331.7M320.5 329.5H337.5V331.7" stroke="#383838" stroke-width="1.05" fill="none"/>
<text x="204.6" y="339.1" font-size="6.6" font-weight="bold" fill="#1a1a1a">0</text>
<path transform="translate(238.5 339.1) scale(0.00322 -0.00322)" d="M820 0L560 0L560 1050Q420 930 200 860L200 1110Q330 1160 450 1260Q560 1360 610 1466L820 1466Z" fill="#1a1a1a"/>
<text x="242.1" y="339.1" font-size="6.6" font-weight="bold" fill="#1a1a1a">0</text>
<text x="274.2" y="339.1" font-size="6.6" font-weight="bold" fill="#1a1a1a">2</text>
<text x="277.9" y="339.1" font-size="6.6" font-weight="bold" fill="#1a1a1a">0</text>
<text x="309.9" y="339.1" font-size="6.6" font-weight="bold" fill="#1a1a1a">3</text>
<text x="313.6" y="339.1" font-size="6.6" font-weight="bold" fill="#1a1a1a">0</text>
<text x="333.6" y="339.1" font-size="6.6" font-weight="bold" fill="#1a1a1a">6</text>
<text x="337.3" y="339.1" font-size="6.6" font-weight="bold" fill="#1a1a1a">0</text>
<text x="198.9" y="246.4" font-size="14" font-weight="bold" fill="#000">H</text>
<g>
<path clip-path="url(#cH)" d="M206.4 320.4L210 317.6L213.5 312.6L220.7 302.7L227.8 301.3L235 299.2L242.1 303.4L260 308L277.9 313.9L295.7 315L313.6 317.6L337.3 319.7L337.3 320.3L313.6 319.8L295.7 319.6L277.9 318.7L260 316.2L242.1 313.6L235 310.8L227.8 310.5L220.7 310.2L213.5 318.3L210 320.1L206.4 320.4Z" fill="#8a8ae8" stroke="none"/>
<path clip-path="url(#cH)" d="M206.4 320.4L210 319L213.5 315.5L220.7 306.3L227.8 306.3L235 306.3L242.1 309.1L260 312.6L277.9 316.6L295.7 317.6L313.6 318.7L337.3 320" fill="none" stroke="#1a1a58" stroke-width="1.15" stroke-linejoin="round"/>
<path clip-path="url(#cH)" d="M206.4 315.7L210 313.3L213.5 313.3L220.7 316.2L227.8 320.3L235 316.2L242.1 316.7L260 314L277.9 318L295.7 316.4L313.6 319.6L337.3 320.4" fill="none" stroke="#1c1cd0" stroke-width="1.5" stroke-linejoin="round"/>
<circle cx="206.4" cy="315.7" r="2.1" fill="#e4e4fa" fill-opacity="0.8" stroke="#8080d8" stroke-width="0.8"/>
<circle cx="210" cy="313.3" r="2.1" fill="#e4e4fa" fill-opacity="0.8" stroke="#8080d8" stroke-width="0.8"/>
<circle cx="213.5" cy="313.3" r="2.1" fill="#e4e4fa" fill-opacity="0.8" stroke="#8080d8" stroke-width="0.8"/>
<circle cx="220.7" cy="316.2" r="2.1" fill="#e4e4fa" fill-opacity="0.8" stroke="#8080d8" stroke-width="0.8"/>
<circle cx="227.8" cy="320.3" r="2.1" fill="#e4e4fa" fill-opacity="0.8" stroke="#8080d8" stroke-width="0.8"/>
<circle cx="235" cy="316.2" r="2.1" fill="#e4e4fa" fill-opacity="0.8" stroke="#8080d8" stroke-width="0.8"/>
<circle cx="242.1" cy="316.7" r="2.1" fill="#e4e4fa" fill-opacity="0.8" stroke="#8080d8" stroke-width="0.8"/>
<circle cx="260" cy="314" r="2.1" fill="#e4e4fa" fill-opacity="0.8" stroke="#8080d8" stroke-width="0.8"/>
<circle cx="277.9" cy="318" r="2.1" fill="#e4e4fa" fill-opacity="0.8" stroke="#8080d8" stroke-width="0.8"/>
<circle cx="295.7" cy="316.4" r="2.1" fill="#e4e4fa" fill-opacity="0.8" stroke="#8080d8" stroke-width="0.8"/>
<circle cx="313.6" cy="319.6" r="2.1" fill="#e4e4fa" fill-opacity="0.8" stroke="#8080d8" stroke-width="0.8"/>
<circle cx="337.3" cy="320.4" r="2.1" fill="#e4e4fa" fill-opacity="0.8" stroke="#8080d8" stroke-width="0.8"/>
</g>
<path d="M364.5 239.1V324" stroke="#383838" stroke-width="1.05" fill="none"/>
<path d="M361.9 323.5H364.5" stroke="#383838" stroke-width="1.05" fill="none"/>
<text transform="translate(356.8 325.3) scale(1.12 1)" font-size="6.6" font-weight="bold" fill="#1a1a1a">0</text>
<path d="M361.9 239.5H364.5" stroke="#383838" stroke-width="1.05" fill="none"/>
<path transform="translate(356.8 241) scale(0.00361 -0.00322)" d="M820 0L560 0L560 1050Q420 930 200 860L200 1110Q330 1160 450 1260Q560 1360 610 1466L820 1466Z" fill="#1a1a1a"/>
<path d="M374.5 335.7V333.5H481.5M410.5 333.5v2.2M445.5 333.5v2.2M481.5 331.8V335.7M488.5 331.8V335.7M488.5 333.5H505.5V335.7" stroke="#383838" stroke-width="1.05" fill="none"/>
<text x="372.6" y="343.1" font-size="6.6" font-weight="bold" fill="#1a1a1a">0</text>
<path transform="translate(406.5 343.1) scale(0.00322 -0.00322)" d="M820 0L560 0L560 1050Q420 930 200 860L200 1110Q330 1160 450 1260Q560 1360 610 1466L820 1466Z" fill="#1a1a1a"/>
<text x="410.1" y="343.1" font-size="6.6" font-weight="bold" fill="#1a1a1a">0</text>
<text x="442.2" y="343.1" font-size="6.6" font-weight="bold" fill="#1a1a1a">2</text>
<text x="445.9" y="343.1" font-size="6.6" font-weight="bold" fill="#1a1a1a">0</text>
<text x="477.9" y="343.1" font-size="6.6" font-weight="bold" fill="#1a1a1a">3</text>
<text x="481.6" y="343.1" font-size="6.6" font-weight="bold" fill="#1a1a1a">0</text>
<text x="501.6" y="343.1" font-size="6.6" font-weight="bold" fill="#1a1a1a">6</text>
<text x="505.3" y="343.1" font-size="6.6" font-weight="bold" fill="#1a1a1a">0</text>
<text x="368.4" y="249" font-size="14" font-weight="bold" fill="#000">I</text>
<g>
<path clip-path="url(#cI)" d="M374.4 313.3L378 312.9L381.5 312.4L388.7 312.4L395.8 312.9L403 313.3L410.1 315.8L428 316.2L445.9 316.7L463.7 317.1L481.6 317.1L505.3 317.1L505.3 324.7L481.6 324.7L463.7 324.7L445.9 324.2L428 323.8L410.1 323.4L403 320.9L395.8 320.4L388.7 320L381.5 320L378 320.4L374.4 320.9Z" fill="#f3a2aa" stroke="none"/>
<path clip-path="url(#cI)" d="M374.4 317.1L378 316.7L381.5 316.2L388.7 316.2L395.8 316.7L403 317.1L410.1 319.6L428 320L445.9 320.4L463.7 320.9L481.6 320.9L505.3 320.9" fill="none" stroke="#5c1010" stroke-width="1.15" stroke-linejoin="round"/>
<path clip-path="url(#cI)" d="M374.4 308.2L378 308.2L381.5 304.9L388.7 318.7L395.8 321.3L403 310.8L410.1 308.6L428 305.7L445.9 319.2L463.7 311.6L481.6 323.4L505.3 320" fill="none" stroke="#7a1010" stroke-width="1.5" stroke-linejoin="round"/>
<rect x="372.4" y="306.2" width="4" height="4" fill="#fff" stroke="#b89090" stroke-width="0.8"/>
<rect x="376" y="306.2" width="4" height="4" fill="#fff" stroke="#b89090" stroke-width="0.8"/>
<rect x="379.5" y="302.9" width="4" height="4" fill="#fff" stroke="#b89090" stroke-width="0.8"/>
<rect x="386.7" y="316.7" width="4" height="4" fill="#fff" stroke="#b89090" stroke-width="0.8"/>
<rect x="393.8" y="319.3" width="4" height="4" fill="#fff" stroke="#b89090" stroke-width="0.8"/>
<rect x="401" y="308.8" width="4" height="4" fill="#fff" stroke="#b89090" stroke-width="0.8"/>
<rect x="408.1" y="306.6" width="4" height="4" fill="#fff" stroke="#b89090" stroke-width="0.8"/>
<rect x="426" y="303.7" width="4" height="4" fill="#fff" stroke="#b89090" stroke-width="0.8"/>
<rect x="443.9" y="317.2" width="4" height="4" fill="#fff" stroke="#b89090" stroke-width="0.8"/>
<rect x="461.7" y="309.6" width="4" height="4" fill="#fff" stroke="#b89090" stroke-width="0.8"/>
<rect x="479.6" y="321.4" width="4" height="4" fill="#fff" stroke="#b89090" stroke-width="0.8"/>
<rect x="503.3" y="318" width="4" height="4" fill="#fff" stroke="#b89090" stroke-width="0.8"/>
</g>
<path d="M35.5 395.8V479" stroke="#383838" stroke-width="1.05" fill="none"/>
<path d="M32.9 478.5H35.5" stroke="#383838" stroke-width="1.05" fill="none"/>
<text transform="translate(28.1 480.6) scale(1.12 1)" font-size="6.6" font-weight="bold" fill="#1a1a1a">0</text>
<path d="M32.9 439.5H35.5" stroke="#383838" stroke-width="1.05" fill="none"/>
<path transform="translate(28.1 441.1) scale(0.00361 -0.00322)" d="M820 0L560 0L560 1050Q420 930 200 860L200 1110Q330 1160 450 1260Q560 1360 610 1466L820 1466Z" fill="#1a1a1a"/>
<path d="M32.9 399.5H35.5" stroke="#383838" stroke-width="1.05" fill="none"/>
<text transform="translate(28.1 401.4) scale(1.12 1)" font-size="6.6" font-weight="bold" fill="#1a1a1a">2</text>
<path d="M45.5 490.7V488.5H150.5M80.5 488.5v2.2M115.5 488.5v2.2M150.5 486.8V490.7M157.5 486.8V490.7M157.5 488.5H174.5V490.7" stroke="#383838" stroke-width="1.05" fill="none"/>
<text x="40.1" y="405.4" font-size="14" font-weight="bold" fill="#000">J</text>
<g>
<path clip-path="url(#cJ)" d="M45.1 478.7L48.6 464.8L52.1 438.3L59.2 435.9L66.2 447L73.3 455.7L80.3 463.7L97.9 471.6L115.5 475.1L133.1 476.3L150.7 476.9L174 477.1L174 478.7L150.7 478.7L133.1 478.7L115.5 478.3L97.9 477.9L80.3 477.1L73.3 475.9L66.2 473.9L59.2 472.8L52.1 473.2L48.6 477.9L45.1 478.7Z" fill="#a0eda0" stroke="none"/>
<path clip-path="url(#cJ)" d="M45.1 478.7L48.6 472.8L52.1 456.1L59.2 453.4L66.2 460.1L73.3 465.6L80.3 469.2L97.9 474.7L115.5 476.7L133.1 477.5L150.7 477.9L174 477.9" fill="none" stroke="#144414" stroke-width="1.15" stroke-linejoin="round"/>
<path clip-path="url(#cJ)" d="M45.1 478.7L48.6 458.5L52.1 435.5L59.2 403.5L66.2 397.1L80.3 430.4L150.7 467.6L174 476.7" fill="none" stroke="#2a662a" stroke-width="1.7" stroke-dasharray="4.2 1.8 1.3 1.8" stroke-linejoin="round"/>
<rect x="43.1" y="476.7" width="4" height="4" fill="#fff" stroke="#9cbc9c" stroke-width="0.8"/>
<rect x="46.6" y="456.5" width="4" height="4" fill="#fff" stroke="#9cbc9c" stroke-width="0.8"/>
<rect x="50.1" y="433.5" width="4" height="4" fill="#fff" stroke="#9cbc9c" stroke-width="0.8"/>
<rect x="57.2" y="401.5" width="4" height="4" fill="#fff" stroke="#9cbc9c" stroke-width="0.8"/>
<rect x="64.2" y="395.1" width="4" height="4" fill="#fff" stroke="#9cbc9c" stroke-width="0.8"/>
<rect x="78.3" y="428.4" width="4" height="4" fill="#fff" stroke="#9cbc9c" stroke-width="0.8"/>
<rect x="148.7" y="465.6" width="4" height="4" fill="#fff" stroke="#9cbc9c" stroke-width="0.8"/>
<rect x="172" y="474.7" width="4" height="4" fill="#fff" stroke="#9cbc9c" stroke-width="0.8"/>
</g>
<path d="M99.4 419.1h10.2" stroke="#2a662a" stroke-width="1.5" stroke-dasharray="4.2 1.8 1.3 1.8"/>
<rect x="102.6" y="417" width="4.2" height="4.2" fill="#fff" stroke="#9cbc9c" stroke-width="0.8"/>
<text x="115.4" y="421.7" font-size="7.3" fill="#000">AML3</text>
<path d="M199.5 395.7V479" stroke="#383838" stroke-width="1.05" fill="none"/>
<path d="M196.9 478.5H199.5" stroke="#383838" stroke-width="1.05" fill="none"/>
<text transform="translate(192.4 480.6) scale(1.12 1)" font-size="6.6" font-weight="bold" fill="#1a1a1a">0</text>
<path d="M196.9 437.5H199.5" stroke="#383838" stroke-width="1.05" fill="none"/>
<text transform="translate(192.4 439.4) scale(1.12 1)" font-size="6.6" font-weight="bold" fill="#1a1a1a">4</text>
<path d="M196.9 395.5H199.5" stroke="#383838" stroke-width="1.05" fill="none"/>
<text transform="translate(192.4 397.6) scale(1.12 1)" font-size="6.6" font-weight="bold" fill="#1a1a1a">8</text>
<path d="M208.5 490.7V488.5H315.5M244.5 488.5v2.2M279.5 488.5v2.2M315.5 486.8V490.7M321.5 486.8V490.7M321.5 488.5H338.5V490.7" stroke="#383838" stroke-width="1.05" fill="none"/>
<text x="204.8" y="404.3" font-size="14" font-weight="bold" fill="#000">K</text>
<g>
<path clip-path="url(#cK)" d="M208.9 478.7L212.5 477.7L216 475.1L223.1 470.4L230.2 466.2L237.3 470.6L244.4 470.1L262.1 472.5L279.9 474.8L297.6 476.4L315.4 477.4L338.2 477.7L338.2 478.5L315.4 478.5L297.6 478.4L279.9 478.2L262.1 477.9L244.4 477.5L237.3 477.1L230.2 476.4L223.1 477.5L216 478.2L212.5 478.7L208.9 478.7Z" fill="#8a8ae8" stroke="none"/>
<path clip-path="url(#cK)" d="M208.9 478.7L212.5 478.2L216 476.6L223.1 474.6L230.2 472.2L237.3 474.3L244.4 474.8L262.1 475.6L279.9 476.6L297.6 477.5L315.4 478L338.2 478.2" fill="none" stroke="#1a1a58" stroke-width="1.15" stroke-linejoin="round"/>
<path clip-path="url(#cK)" d="M208.9 478.7L212.5 478.7L216 474.6L223.1 451.2L230.2 433L244.4 430.8L315.4 436.8L338.2 467.5" fill="none" stroke="#2626bc" stroke-width="1.6" stroke-dasharray="4.2 1.8 1.3 1.8" stroke-linejoin="round"/>
<rect x="206.9" y="476.7" width="4" height="4" fill="#fff" stroke="#9a9ad8" stroke-width="0.8"/>
<rect x="210.5" y="476.7" width="4" height="4" fill="#fff" stroke="#9a9ad8" stroke-width="0.8"/>
<rect x="214" y="472.6" width="4" height="4" fill="#fff" stroke="#9a9ad8" stroke-width="0.8"/>
<rect x="221.1" y="449.2" width="4" height="4" fill="#fff" stroke="#9a9ad8" stroke-width="0.8"/>
<rect x="228.2" y="431" width="4" height="4" fill="#fff" stroke="#9a9ad8" stroke-width="0.8"/>
<rect x="242.4" y="428.8" width="4" height="4" fill="#fff" stroke="#9a9ad8" stroke-width="0.8"/>
<rect x="313.4" y="434.8" width="4" height="4" fill="#fff" stroke="#9a9ad8" stroke-width="0.8"/>
<rect x="336.2" y="465.5" width="4" height="4" fill="#fff" stroke="#9a9ad8" stroke-width="0.8"/>
</g>
<path d="M364.5 395.7V479" stroke="#383838" stroke-width="1.05" fill="none"/>
<path d="M361.9 478.5H364.5" stroke="#383838" stroke-width="1.05" fill="none"/>
<text transform="translate(357 480.6) scale(1.12 1)" font-size="6.6" font-weight="bold" fill="#1a1a1a">0</text>
<path d="M361.9 395.5H364.5" stroke="#383838" stroke-width="1.05" fill="none"/>
<path transform="translate(357 397.6) scale(0.00361 -0.00322)" d="M820 0L560 0L560 1050Q420 930 200 860L200 1110Q330 1160 450 1260Q560 1360 610 1466L820 1466Z" fill="#1a1a1a"/>
<path d="M373.5 490.7V488.5H479.5M409.5 488.5v2.2M444.5 488.5v2.2M479.5 486.8V490.7M486.5 486.8V490.7M486.5 488.5H502.5V490.7" stroke="#383838" stroke-width="1.05" fill="none"/>
<text x="368.6" y="404.3" font-size="14" font-weight="bold" fill="#000">L</text>
<g>
<path clip-path="url(#cL)" d="M373.9 470.4L377.4 466.2L381 468.3L388 468.7L395.1 468.7L402.1 469.6L409.2 471.6L426.8 472.5L444.4 472.9L462.1 473.3L479.7 473.7L502.3 474.1L502.3 478.7L479.7 478.7L462.1 478.7L444.4 478.7L426.8 478.7L409.2 478.7L402.1 477.9L395.1 477L388 476.6L381 476.6L377.4 477L373.9 477.5Z" fill="#f3a2aa" stroke="none"/>
<path clip-path="url(#cL)" d="M373.9 473.3L377.4 472.9L381 472.5L388 472.5L395.1 472.9L402.1 473.7L409.2 475L426.8 475.4L444.4 475.8L462.1 476.2L479.7 476.2L502.3 476.6" fill="none" stroke="#5c1010" stroke-width="1.15" stroke-linejoin="round"/>
<path clip-path="url(#cL)" d="M373.9 466.2L377.4 470.8L381 478.7L388 462.1L395.1 461.3L409.2 477.9L479.7 473.7L502.3 478.7" fill="none" stroke="#7e1616" stroke-width="1.5" stroke-dasharray="2.6 1.5" stroke-linejoin="round"/>
<rect x="371.9" y="464.2" width="4" height="4" fill="#fff" stroke="#b89090" stroke-width="0.8"/>
<rect x="375.4" y="468.8" width="4" height="4" fill="#fff" stroke="#b89090" stroke-width="0.8"/>
<rect x="379" y="476.7" width="4" height="4" fill="#fff" stroke="#b89090" stroke-width="0.8"/>
<rect x="386" y="460.1" width="4" height="4" fill="#fff" stroke="#b89090" stroke-width="0.8"/>
<rect x="393.1" y="459.3" width="4" height="4" fill="#fff" stroke="#b89090" stroke-width="0.8"/>
<rect x="407.2" y="475.9" width="4" height="4" fill="#fff" stroke="#b89090" stroke-width="0.8"/>
<rect x="477.7" y="471.7" width="4" height="4" fill="#fff" stroke="#b89090" stroke-width="0.8"/>
<rect x="500.3" y="476.7" width="4" height="4" fill="#fff" stroke="#b89090" stroke-width="0.8"/>
</g>
<path d="M35.5 499.8V585" stroke="#383838" stroke-width="1.05" fill="none"/>
<path d="M32.9 584.5H35.5" stroke="#383838" stroke-width="1.05" fill="none"/>
<text transform="translate(28 586.4) scale(1.12 1)" font-size="6.6" font-weight="bold" fill="#1a1a1a">0</text>
<path d="M32.9 544.5H35.5" stroke="#383838" stroke-width="1.05" fill="none"/>
<path transform="translate(28 546) scale(0.00361 -0.00322)" d="M820 0L560 0L560 1050Q420 930 200 860L200 1110Q330 1160 450 1260Q560 1360 610 1466L820 1466Z" fill="#1a1a1a"/>
<path d="M32.9 503.5H35.5" stroke="#383838" stroke-width="1.05" fill="none"/>
<text transform="translate(28 505.6) scale(1.12 1)" font-size="6.6" font-weight="bold" fill="#1a1a1a">2</text>
<path d="M45.5 595.7V593.5H152.5M80.5 593.5v2.2M116.5 593.5v2.2M152.5 591.8V595.7M159.5 591.8V595.7M159.5 593.5H176.5V595.7" stroke="#383838" stroke-width="1.05" fill="none"/>
<text x="39.2" y="508.8" font-size="14" font-weight="bold" fill="#000">M</text>
<g>
<path clip-path="url(#cM)" d="M45.1 584.4L48.7 570.3L52.3 543.2L59.4 540.8L66.6 552.1L73.7 561L80.9 569L98.8 577.1L116.6 580.8L134.5 582L152.4 582.6L176.1 582.8L176.1 584.4L152.4 584.4L134.5 584.4L116.6 584L98.8 583.6L80.9 582.8L73.7 581.6L66.6 579.6L59.4 578.3L52.3 578.7L48.7 583.6L45.1 584.4Z" fill="#a0eda0" stroke="none"/>
<path clip-path="url(#cM)" d="M45.1 584.4L48.7 578.3L52.3 561.4L59.4 558.5L66.6 565.4L73.7 571.1L80.9 574.7L98.8 580.4L116.6 582.4L134.5 583.2L152.4 583.6L176.1 583.6" fill="none" stroke="#144414" stroke-width="1.15" stroke-linejoin="round"/>
<path clip-path="url(#cM)" d="M45.1 584.4L48.7 582.8L52.3 580.8L59.4 573.5L66.6 577.1L73.7 578.3L80.9 580.4L98.8 581.6L116.6 583.2L152.4 583.2L176.1 583.6" fill="none" stroke="#3a7a3a" stroke-width="1.1" stroke-dasharray="2.6 1.5" stroke-linejoin="round"/>
<rect x="43.3" y="582.6" width="3.6" height="3.6" fill="#c0e0c0" stroke="#7aaa7a" stroke-width="0.7"/>
<rect x="46.9" y="581" width="3.6" height="3.6" fill="#c0e0c0" stroke="#7aaa7a" stroke-width="0.7"/>
<rect x="50.5" y="579" width="3.6" height="3.6" fill="#c0e0c0" stroke="#7aaa7a" stroke-width="0.7"/>
<rect x="57.6" y="571.7" width="3.6" height="3.6" fill="#c0e0c0" stroke="#7aaa7a" stroke-width="0.7"/>
<rect x="64.8" y="575.3" width="3.6" height="3.6" fill="#c0e0c0" stroke="#7aaa7a" stroke-width="0.7"/>
<rect x="71.9" y="576.5" width="3.6" height="3.6" fill="#c0e0c0" stroke="#7aaa7a" stroke-width="0.7"/>
<rect x="79.1" y="578.6" width="3.6" height="3.6" fill="#c0e0c0" stroke="#7aaa7a" stroke-width="0.7"/>
<rect x="97" y="579.8" width="3.6" height="3.6" fill="#c0e0c0" stroke="#7aaa7a" stroke-width="0.7"/>
<rect x="114.8" y="581.4" width="3.6" height="3.6" fill="#c0e0c0" stroke="#7aaa7a" stroke-width="0.7"/>
<rect x="150.6" y="581.4" width="3.6" height="3.6" fill="#c0e0c0" stroke="#7aaa7a" stroke-width="0.7"/>
<rect x="174.3" y="581.8" width="3.6" height="3.6" fill="#c0e0c0" stroke="#7aaa7a" stroke-width="0.7"/>
</g>
<path d="M100 523.3h10.2" stroke="#3a7a3a" stroke-width="1.5" stroke-dasharray="2.6 1.5"/>
<rect x="103.2" y="521.2" width="4.2" height="4.2" fill="#c0e0c0" stroke="#7aaa7a" stroke-width="0.7"/>
<text x="116" y="525.9" font-size="7.3" fill="#000">AML1</text>
<path d="M200.5 499.9V585" stroke="#383838" stroke-width="1.05" fill="none"/>
<path d="M197.9 584.5H200.5" stroke="#383838" stroke-width="1.05" fill="none"/>
<text transform="translate(192.6 586.4) scale(1.12 1)" font-size="6.6" font-weight="bold" fill="#1a1a1a">0</text>
<path d="M197.9 542.5H200.5" stroke="#383838" stroke-width="1.05" fill="none"/>
<text transform="translate(192.6 544.5) scale(1.12 1)" font-size="6.6" font-weight="bold" fill="#1a1a1a">4</text>
<path d="M197.9 499.5H200.5" stroke="#383838" stroke-width="1.05" fill="none"/>
<text transform="translate(192.6 501.8) scale(1.12 1)" font-size="6.6" font-weight="bold" fill="#1a1a1a">8</text>
<path d="M209.5 595.7V593.5H317.5M245.5 593.5v2.2M281.5 593.5v2.2M317.5 591.8V595.7M324.5 591.8V595.7M324.5 593.5H340.5V595.7" stroke="#383838" stroke-width="1.05" fill="none"/>
<text x="204.1" y="508.8" font-size="14" font-weight="bold" fill="#000">N</text>
<g>
<path clip-path="url(#cN)" d="M209.7 584.4L213.3 583.3L216.9 580.7L224 575.9L231.2 571.7L238.3 576.2L245.5 575.6L263.4 578.1L281.3 580.4L299.2 582.1L317.1 583L340.8 583.3L340.8 584.2L317.1 584.2L299.2 584.1L281.3 583.9L263.4 583.6L245.5 583.1L238.3 582.8L231.2 582.1L224 583.1L216.9 583.9L213.3 584.4L209.7 584.4Z" fill="#8a8ae8" stroke="none"/>
<path clip-path="url(#cN)" d="M209.7 584.4L213.3 583.9L216.9 582.3L224 580.2L231.2 577.7L238.3 580L245.5 580.4L263.4 581.2L281.3 582.3L299.2 583.1L317.1 583.7L340.8 583.9" fill="none" stroke="#1a1a58" stroke-width="1.15" stroke-linejoin="round"/>
<path clip-path="url(#cN)" d="M209.7 584L213.3 584L216.9 584L224 581.5L231.2 578.2L245.5 573.5L281.3 581.4L317.1 583.2L340.8 584.4" fill="none" stroke="#2323c8" stroke-width="1.5" stroke-linejoin="round"/>
<rect x="207.7" y="582" width="4" height="4" fill="#b4b4ee" fill-opacity="0.8" stroke="#5a5ad0" stroke-width="0.8"/>
<rect x="211.3" y="582" width="4" height="4" fill="#b4b4ee" fill-opacity="0.8" stroke="#5a5ad0" stroke-width="0.8"/>
<rect x="214.9" y="582" width="4" height="4" fill="#b4b4ee" fill-opacity="0.8" stroke="#5a5ad0" stroke-width="0.8"/>
<rect x="222" y="579.5" width="4" height="4" fill="#b4b4ee" fill-opacity="0.8" stroke="#5a5ad0" stroke-width="0.8"/>
<rect x="229.2" y="576.2" width="4" height="4" fill="#b4b4ee" fill-opacity="0.8" stroke="#5a5ad0" stroke-width="0.8"/>
<rect x="243.5" y="571.5" width="4" height="4" fill="#b4b4ee" fill-opacity="0.8" stroke="#5a5ad0" stroke-width="0.8"/>
<rect x="279.3" y="579.4" width="4" height="4" fill="#b4b4ee" fill-opacity="0.8" stroke="#5a5ad0" stroke-width="0.8"/>
<rect x="315.1" y="581.2" width="4" height="4" fill="#b4b4ee" fill-opacity="0.8" stroke="#5a5ad0" stroke-width="0.8"/>
<rect x="338.8" y="582.4" width="4" height="4" fill="#b4b4ee" fill-opacity="0.8" stroke="#5a5ad0" stroke-width="0.8"/>
</g>
<path d="M364.5 499.8V585" stroke="#383838" stroke-width="1.05" fill="none"/>
<path d="M361.9 584.5H364.5" stroke="#383838" stroke-width="1.05" fill="none"/>
<text transform="translate(357 586.4) scale(1.12 1)" font-size="6.6" font-weight="bold" fill="#1a1a1a">0</text>
<path d="M361.9 499.5H364.5" stroke="#383838" stroke-width="1.05" fill="none"/>
<path transform="translate(357 501.8) scale(0.00361 -0.00322)" d="M820 0L560 0L560 1050Q420 930 200 860L200 1110Q330 1160 450 1260Q560 1360 610 1466L820 1466Z" fill="#1a1a1a"/>
<path d="M374.5 596.7V594.5H481.5M410.5 594.5v2.2M445.5 594.5v2.2M481.5 592.8V596.7M488.5 592.8V596.7M488.5 594.5H505.5V596.7" stroke="#383838" stroke-width="1.05" fill="none"/>
<text x="367.7" y="507.8" font-size="14" font-weight="bold" fill="#000">O</text>
<g>
<path clip-path="url(#cO)" d="M374.4 575.9L378 571.7L381.5 573.8L388.7 574.2L395.8 574.2L403 575.1L410.1 577.2L428 578.1L445.9 578.5L463.7 578.9L481.6 579.3L505.3 579.7L505.3 584.4L481.6 584.4L463.7 584.4L445.9 584.4L428 584.4L410.1 584.4L403 583.6L395.8 582.7L388.7 582.3L381.5 582.3L378 582.7L374.4 583.1Z" fill="#f3a2aa" stroke="none"/>
<path clip-path="url(#cO)" d="M374.4 578.9L378 578.5L381.5 578.1L388.7 578.1L395.8 578.5L403 579.3L410.1 580.6L428 581L445.9 581.4L463.7 581.9L481.6 581.9L505.3 582.3" fill="none" stroke="#5c1010" stroke-width="1.15" stroke-linejoin="round"/>
<path clip-path="url(#cO)" d="M374.4 582.7L378 583.6L381.5 582.7L388.7 583.1L395.8 583.6L410.1 584.4L445.9 583.6L481.6 583.6L505.3 583.6" fill="none" stroke="#8a1a22" stroke-width="1.4" stroke-dasharray="4 2" stroke-linejoin="round"/>
<circle cx="374.4" cy="582.7" r="1.8" fill="#f8d4d8" stroke="#c07a80" stroke-width="0.8"/>
<circle cx="378" cy="583.6" r="1.8" fill="#f8d4d8" stroke="#c07a80" stroke-width="0.8"/>
<circle cx="381.5" cy="582.7" r="1.8" fill="#f8d4d8" stroke="#c07a80" stroke-width="0.8"/>
<circle cx="388.7" cy="583.1" r="1.8" fill="#f8d4d8" stroke="#c07a80" stroke-width="0.8"/>
<circle cx="395.8" cy="583.6" r="1.8" fill="#f8d4d8" stroke="#c07a80" stroke-width="0.8"/>
<circle cx="410.1" cy="584.4" r="1.8" fill="#f8d4d8" stroke="#c07a80" stroke-width="0.8"/>
<circle cx="445.9" cy="583.6" r="1.8" fill="#f8d4d8" stroke="#c07a80" stroke-width="0.8"/>
<circle cx="481.6" cy="583.6" r="1.8" fill="#f8d4d8" stroke="#c07a80" stroke-width="0.8"/>
<circle cx="505.3" cy="583.6" r="1.8" fill="#f8d4d8" stroke="#c07a80" stroke-width="0.8"/>
</g>
<path d="M35.5 605.8V691" stroke="#383838" stroke-width="1.05" fill="none"/>
<path d="M32.9 690.5H35.5" stroke="#383838" stroke-width="1.05" fill="none"/>
<text transform="translate(28.2 692) scale(1.12 1)" font-size="6.6" font-weight="bold" fill="#1a1a1a">0</text>
<path d="M32.9 649.5H35.5" stroke="#383838" stroke-width="1.05" fill="none"/>
<path transform="translate(28.2 651.5) scale(0.00361 -0.00322)" d="M820 0L560 0L560 1050Q420 930 200 860L200 1110Q330 1160 450 1260Q560 1360 610 1466L820 1466Z" fill="#1a1a1a"/>
<path d="M32.9 609.5H35.5" stroke="#383838" stroke-width="1.05" fill="none"/>
<text transform="translate(28.2 611.6) scale(1.12 1)" font-size="6.6" font-weight="bold" fill="#1a1a1a">2</text>
<path d="M45.5 701.7V699.5H152.5M81.5 699.5v2.2M117.5 699.5v2.2M152.5 697.8V701.7M159.5 697.8V701.7M159.5 699.5H176.5V701.7" stroke="#383838" stroke-width="1.05" fill="none"/>
<text x="43.6" y="709.1" font-size="6.6" font-weight="bold" fill="#1a1a1a">0</text>
<path transform="translate(77.5 709.1) scale(0.00322 -0.00322)" d="M820 0L560 0L560 1050Q420 930 200 860L200 1110Q330 1160 450 1260Q560 1360 610 1466L820 1466Z" fill="#1a1a1a"/>
<text x="81.2" y="709.1" font-size="6.6" font-weight="bold" fill="#1a1a1a">0</text>
<text x="113.3" y="709.1" font-size="6.6" font-weight="bold" fill="#1a1a1a">2</text>
<text x="117" y="709.1" font-size="6.6" font-weight="bold" fill="#1a1a1a">0</text>
<text x="149.1" y="709.1" font-size="6.6" font-weight="bold" fill="#1a1a1a">3</text>
<text x="152.8" y="709.1" font-size="6.6" font-weight="bold" fill="#1a1a1a">0</text>
<text x="172.4" y="709.1" font-size="6.6" font-weight="bold" fill="#1a1a1a">6</text>
<text x="176.1" y="709.1" font-size="6.6" font-weight="bold" fill="#1a1a1a">0</text>
<text x="39.3" y="614.4" font-size="14" font-weight="bold" fill="#000">P</text>
<g>
<path clip-path="url(#cP)" d="M45.4 690L49 675.9L52.6 649L59.7 646.6L66.9 657.8L74 666.7L81.2 674.7L99.1 682.8L117 686.4L134.9 687.6L152.8 688.2L176.1 688.4L176.1 690L152.8 690L134.9 690L117 689.6L99.1 689.2L81.2 688.4L74 687.2L66.9 685.2L59.7 684L52.6 684.4L49 689.2L45.4 690Z" fill="#a0eda0" stroke="none"/>
<path clip-path="url(#cP)" d="M45.4 690L49 684L52.6 667.1L59.7 664.3L66.9 671.1L74 676.7L81.2 680.4L99.1 686L117 688L134.9 688.8L152.8 689.2L176.1 689.2" fill="none" stroke="#144414" stroke-width="1.15" stroke-linejoin="round"/>
<path clip-path="url(#cP)" d="M45.4 688.8L49 690L52.6 682L59.7 614.8L66.9 641.8L74 666.7L81.2 667.5L99.1 681.6L117 683.2L134.9 683.2L152.8 687.2L176.1 684.4" fill="none" stroke="#1f6a1f" stroke-width="1.6" stroke-linejoin="round"/>
<rect x="43.1" y="686.5" width="4.5" height="4.5" fill="#d0ecd0" fill-opacity="0.75" stroke="#8aa88a" stroke-width="0.8"/>
<rect x="46.7" y="687.8" width="4.5" height="4.5" fill="#d0ecd0" fill-opacity="0.75" stroke="#8aa88a" stroke-width="0.8"/>
<rect x="50.3" y="679.7" width="4.5" height="4.5" fill="#d0ecd0" fill-opacity="0.75" stroke="#8aa88a" stroke-width="0.8"/>
<rect x="57.5" y="612.6" width="4.5" height="4.5" fill="#d0ecd0" fill-opacity="0.75" stroke="#8aa88a" stroke-width="0.8"/>
<rect x="64.6" y="639.5" width="4.5" height="4.5" fill="#d0ecd0" fill-opacity="0.75" stroke="#8aa88a" stroke-width="0.8"/>
<rect x="71.8" y="664.4" width="4.5" height="4.5" fill="#d0ecd0" fill-opacity="0.75" stroke="#8aa88a" stroke-width="0.8"/>
<rect x="78.9" y="665.2" width="4.5" height="4.5" fill="#d0ecd0" fill-opacity="0.75" stroke="#8aa88a" stroke-width="0.8"/>
<rect x="96.8" y="679.3" width="4.5" height="4.5" fill="#d0ecd0" fill-opacity="0.75" stroke="#8aa88a" stroke-width="0.8"/>
<rect x="114.8" y="680.9" width="4.5" height="4.5" fill="#d0ecd0" fill-opacity="0.75" stroke="#8aa88a" stroke-width="0.8"/>
<rect x="132.7" y="680.9" width="4.5" height="4.5" fill="#d0ecd0" fill-opacity="0.75" stroke="#8aa88a" stroke-width="0.8"/>
<rect x="150.6" y="684.9" width="4.5" height="4.5" fill="#d0ecd0" fill-opacity="0.75" stroke="#8aa88a" stroke-width="0.8"/>
<rect x="173.8" y="682.1" width="4.5" height="4.5" fill="#d0ecd0" fill-opacity="0.75" stroke="#8aa88a" stroke-width="0.8"/>
</g>
<path d="M100 629.4h10.2" stroke="#1f6a1f" stroke-width="1.5"/>
<rect x="103.2" y="627.3" width="4.2" height="4.2" fill="#d0ecd0" stroke="#8aa88a" stroke-width="0.8"/>
<text x="116" y="632" font-size="7.3" fill="#000">AML5</text>
<path d="M200.5 605.2V691" stroke="#383838" stroke-width="1.05" fill="none"/>
<path d="M197.9 690.5H200.5" stroke="#383838" stroke-width="1.05" fill="none"/>
<text transform="translate(192.5 692.1) scale(1.12 1)" font-size="6.6" font-weight="bold" fill="#1a1a1a">0</text>
<path d="M197.9 647.5H200.5" stroke="#383838" stroke-width="1.05" fill="none"/>
<text transform="translate(192.5 649.6) scale(1.12 1)" font-size="6.6" font-weight="bold" fill="#1a1a1a">4</text>
<path d="M197.9 605.5H200.5" stroke="#383838" stroke-width="1.05" fill="none"/>
<text transform="translate(192.5 607.2) scale(1.12 1)" font-size="6.6" font-weight="bold" fill="#1a1a1a">8</text>
<path d="M209.5 701.7V699.5H317.5M245.5 699.5v2.2M281.5 699.5v2.2M317.5 697.8V701.7M324.5 697.8V701.7M324.5 699.5H340.5V701.7" stroke="#383838" stroke-width="1.05" fill="none"/>
<text x="207.6" y="709.1" font-size="6.6" font-weight="bold" fill="#1a1a1a">0</text>
<path transform="translate(241.6 709.1) scale(0.00322 -0.00322)" d="M820 0L560 0L560 1050Q420 930 200 860L200 1110Q330 1160 450 1260Q560 1360 610 1466L820 1466Z" fill="#1a1a1a"/>
<text x="245.3" y="709.1" font-size="6.6" font-weight="bold" fill="#1a1a1a">0</text>
<text x="277.5" y="709.1" font-size="6.6" font-weight="bold" fill="#1a1a1a">2</text>
<text x="281.2" y="709.1" font-size="6.6" font-weight="bold" fill="#1a1a1a">0</text>
<text x="313.4" y="709.1" font-size="6.6" font-weight="bold" fill="#1a1a1a">3</text>
<text x="317.1" y="709.1" font-size="6.6" font-weight="bold" fill="#1a1a1a">0</text>
<text x="336.7" y="709.1" font-size="6.6" font-weight="bold" fill="#1a1a1a">6</text>
<text x="340.4" y="709.1" font-size="6.6" font-weight="bold" fill="#1a1a1a">0</text>
<text x="205.1" y="613.6" font-size="14" font-weight="bold" fill="#000">Q</text>
<g>
<path clip-path="url(#cQ)" d="M209.4 690.1L213 689L216.6 686.4L223.8 681.6L230.9 677.4L238.1 681.8L245.3 681.3L263.2 683.7L281.2 686.1L299.2 687.8L317.1 688.7L340.4 689L340.4 689.9L317.1 689.9L299.2 689.8L281.2 689.6L263.2 689.3L245.3 688.8L238.1 688.5L230.9 687.8L223.8 688.8L216.6 689.6L213 690.1L209.4 690.1Z" fill="#8a8ae8" stroke="none"/>
<path clip-path="url(#cQ)" d="M209.4 690.1L213 689.6L216.6 688L223.8 685.9L230.9 683.4L238.1 685.6L245.3 686.1L263.2 686.9L281.2 688L299.2 688.8L317.1 689.4L340.4 689.6" fill="none" stroke="#1a1a58" stroke-width="1.15" stroke-linejoin="round"/>
<path clip-path="url(#cQ)" d="M209.4 683.5L213 684.9L216.6 684.9L223.8 625.6L230.9 609.3L238.1 618.1L245.3 641.4L263.2 672.3L281.2 680.9L299.2 686.6L317.1 689.3L340.4 690.1" fill="none" stroke="#2828a4" stroke-width="1.7" stroke-linejoin="round"/>
<rect x="207.2" y="681.4" width="4.3" height="4.3" fill="#c4c4f4" fill-opacity="0.75" stroke="#8080d0" stroke-width="0.8"/>
<rect x="210.8" y="682.7" width="4.3" height="4.3" fill="#c4c4f4" fill-opacity="0.75" stroke="#8080d0" stroke-width="0.8"/>
<rect x="214.4" y="682.7" width="4.3" height="4.3" fill="#c4c4f4" fill-opacity="0.75" stroke="#8080d0" stroke-width="0.8"/>
<rect x="221.6" y="623.4" width="4.3" height="4.3" fill="#c4c4f4" fill-opacity="0.75" stroke="#8080d0" stroke-width="0.8"/>
<rect x="228.8" y="607.2" width="4.3" height="4.3" fill="#c4c4f4" fill-opacity="0.75" stroke="#8080d0" stroke-width="0.8"/>
<rect x="236" y="616" width="4.3" height="4.3" fill="#c4c4f4" fill-opacity="0.75" stroke="#8080d0" stroke-width="0.8"/>
<rect x="243.2" y="639.2" width="4.3" height="4.3" fill="#c4c4f4" fill-opacity="0.75" stroke="#8080d0" stroke-width="0.8"/>
<rect x="261.1" y="670.1" width="4.3" height="4.3" fill="#c4c4f4" fill-opacity="0.75" stroke="#8080d0" stroke-width="0.8"/>
<rect x="279.1" y="678.7" width="4.3" height="4.3" fill="#c4c4f4" fill-opacity="0.75" stroke="#8080d0" stroke-width="0.8"/>
<rect x="297" y="684.4" width="4.3" height="4.3" fill="#c4c4f4" fill-opacity="0.75" stroke="#8080d0" stroke-width="0.8"/>
<rect x="315" y="687.1" width="4.3" height="4.3" fill="#c4c4f4" fill-opacity="0.75" stroke="#8080d0" stroke-width="0.8"/>
<rect x="338.2" y="688" width="4.3" height="4.3" fill="#c4c4f4" fill-opacity="0.75" stroke="#8080d0" stroke-width="0.8"/>
</g>
<path d="M364.5 605.7V691" stroke="#383838" stroke-width="1.05" fill="none"/>
<path d="M361.9 690.5H364.5" stroke="#383838" stroke-width="1.05" fill="none"/>
<text transform="translate(357 692.2) scale(1.12 1)" font-size="6.6" font-weight="bold" fill="#1a1a1a">0</text>
<path d="M361.9 605.5H364.5" stroke="#383838" stroke-width="1.05" fill="none"/>
<path transform="translate(357 607.7) scale(0.00361 -0.00322)" d="M820 0L560 0L560 1050Q420 930 200 860L200 1110Q330 1160 450 1260Q560 1360 610 1466L820 1466Z" fill="#1a1a1a"/>
<path d="M374.5 701.7V699.5H481.5M410.5 699.5v2.2M446.5 699.5v2.2M481.5 697.8V701.7M489.5 697.8V701.7M489.5 699.5H504.5V701.7" stroke="#383838" stroke-width="1.05" fill="none"/>
<text x="372.6" y="709.1" font-size="6.6" font-weight="bold" fill="#1a1a1a">0</text>
<path transform="translate(406.5 709.1) scale(0.00322 -0.00322)" d="M820 0L560 0L560 1050Q420 930 200 860L200 1110Q330 1160 450 1260Q560 1360 610 1466L820 1466Z" fill="#1a1a1a"/>
<text x="410.2" y="709.1" font-size="6.6" font-weight="bold" fill="#1a1a1a">0</text>
<text x="442.3" y="709.1" font-size="6.6" font-weight="bold" fill="#1a1a1a">2</text>
<text x="446" y="709.1" font-size="6.6" font-weight="bold" fill="#1a1a1a">0</text>
<text x="478.1" y="709.1" font-size="6.6" font-weight="bold" fill="#1a1a1a">3</text>
<text x="481.8" y="709.1" font-size="6.6" font-weight="bold" fill="#1a1a1a">0</text>
<text x="501" y="709.1" font-size="6.6" font-weight="bold" fill="#1a1a1a">6</text>
<text x="504.7" y="709.1" font-size="6.6" font-weight="bold" fill="#1a1a1a">0</text>
<text x="368.7" y="614.8" font-size="14" font-weight="bold" fill="#000">R</text>
<g>
<path clip-path="url(#cR)" d="M374.4 681.8L378 677.5L381.6 679.6L388.7 680.1L395.9 680.1L403 680.9L410.2 683L428.1 683.9L446 684.3L463.9 684.7L481.8 685.1L504.7 685.6L504.7 690.2L481.8 690.2L463.9 690.2L446 690.2L428.1 690.2L410.2 690.2L403 689.4L395.9 688.5L388.7 688.1L381.6 688.1L378 688.5L374.4 688.9Z" fill="#f3a2aa" stroke="none"/>
<path clip-path="url(#cR)" d="M374.4 684.7L378 684.3L381.6 683.9L388.7 683.9L395.9 684.3L403 685.1L410.2 686.4L428.1 686.8L446 687.2L463.9 687.7L481.8 687.7L504.7 688.1" fill="none" stroke="#5c1010" stroke-width="1.15" stroke-linejoin="round"/>
<path clip-path="url(#cR)" d="M374.4 681.8L378 681.2L381.6 680.1L388.7 665.7L395.9 683.4L403 690.2L410.2 686.8L428.1 690.2L446 680.9L463.9 690.2L481.8 688.5L504.7 688.5" fill="none" stroke="#7a1010" stroke-width="1.5" stroke-linejoin="round"/>
<rect x="372.4" y="679.8" width="4" height="4" fill="#fff" stroke="#b89090" stroke-width="0.8"/>
<rect x="376" y="679.2" width="4" height="4" fill="#fff" stroke="#b89090" stroke-width="0.8"/>
<rect x="379.6" y="678.1" width="4" height="4" fill="#fff" stroke="#b89090" stroke-width="0.8"/>
<rect x="386.7" y="663.7" width="4" height="4" fill="#fff" stroke="#b89090" stroke-width="0.8"/>
<rect x="393.9" y="681.4" width="4" height="4" fill="#fff" stroke="#b89090" stroke-width="0.8"/>
<rect x="401" y="688.2" width="4" height="4" fill="#fff" stroke="#b89090" stroke-width="0.8"/>
<rect x="408.2" y="684.8" width="4" height="4" fill="#fff" stroke="#b89090" stroke-width="0.8"/>
<rect x="426.1" y="688.2" width="4" height="4" fill="#fff" stroke="#b89090" stroke-width="0.8"/>
<rect x="444" y="678.9" width="4" height="4" fill="#fff" stroke="#b89090" stroke-width="0.8"/>
<rect x="461.9" y="688.2" width="4" height="4" fill="#fff" stroke="#b89090" stroke-width="0.8"/>
<rect x="479.8" y="686.5" width="4" height="4" fill="#fff" stroke="#b89090" stroke-width="0.8"/>
<rect x="502.7" y="686.5" width="4" height="4" fill="#fff" stroke="#b89090" stroke-width="0.8"/>
</g>
<text x="72.1" y="12.8" font-size="10" font-weight="bold" fill="#000">SCF</text>
<path d="M95.2 9.7H101.7" stroke="#111" stroke-width="1.0"/>
<path d="M99.6 7.9L102.2 9.7L99.6 11.5" stroke="#111" stroke-width="1.0" fill="none"/>
<text x="107.6" y="12.8" font-size="10" font-weight="bold" fill="#000">Erk</text>
<text x="237.7" y="12.8" font-size="10" font-weight="bold" fill="#000">SCF</text>
<path d="M260.7 9.7H268.6" stroke="#111" stroke-width="1.0"/>
<path d="M266.5 7.9L269.1 9.7L266.5 11.5" stroke="#111" stroke-width="1.0" fill="none"/>
<text x="273.7" y="12.8" font-size="10" font-weight="bold" fill="#000">S6</text>
<text x="399.5" y="15.4" font-size="10" font-weight="bold" fill="#000">SCF</text>
<path d="M422.4 12.3H430.7" stroke="#111" stroke-width="1.0"/>
<path d="M428.6 10.5L431.2 12.3L428.6 14.1" stroke="#111" stroke-width="1.0" fill="none"/>
<text x="435" y="15.4" font-size="10" font-weight="bold" fill="#000">Stat5</text>
<text x="78.8" y="384.6" font-size="10" font-weight="bold" fill="#000">FL</text>
<path d="M94 381.5H100.8" stroke="#111" stroke-width="1.0"/>
<path d="M98.7 379.7L101.3 381.5L98.7 383.3" stroke="#111" stroke-width="1.0" fill="none"/>
<text x="106.5" y="384.6" font-size="10" font-weight="bold" fill="#000">Erk</text>
<text x="244.6" y="384.6" font-size="10" font-weight="bold" fill="#000">FL</text>
<path d="M260.2 381.5H267.7" stroke="#111" stroke-width="1.0"/>
<path d="M265.6 379.7L268.2 381.5L265.6 383.3" stroke="#111" stroke-width="1.0" fill="none"/>
<text x="273.1" y="384.6" font-size="10" font-weight="bold" fill="#000">S6</text>
<text x="403.8" y="384.5" font-size="10" font-weight="bold" fill="#000">FL</text>
<path d="M418.9 381.4H426.2" stroke="#111" stroke-width="1.0"/>
<path d="M424.1 379.6L426.7 381.4L424.1 383.2" stroke="#111" stroke-width="1.0" fill="none"/>
<text transform="translate(431.6 384.5) scale(0.955 1)" font-size="10" font-weight="bold" fill="#000">Stat5</text>
<text transform="translate(11.2 173.6) rotate(-90)" font-size="8.9" font-weight="bold" text-anchor="middle" fill="#000">MFI (Normalized to Peak NBM)</text>
<text transform="translate(13.6 544.2) rotate(-90)" font-size="8.9" font-weight="bold" text-anchor="middle" fill="#000">MFI (Normalized to Peak NBM for SCF)</text>
<text x="274.6" y="721.5" font-size="8.6" font-weight="bold" text-anchor="middle" fill="#111">Time, min</text>
<text transform="translate(439.2 720.2) scale(0.86 1)" font-size="8.4" font-weight="bold" text-anchor="middle" fill="#111">Time, min</text>
</svg>
</body></html>
